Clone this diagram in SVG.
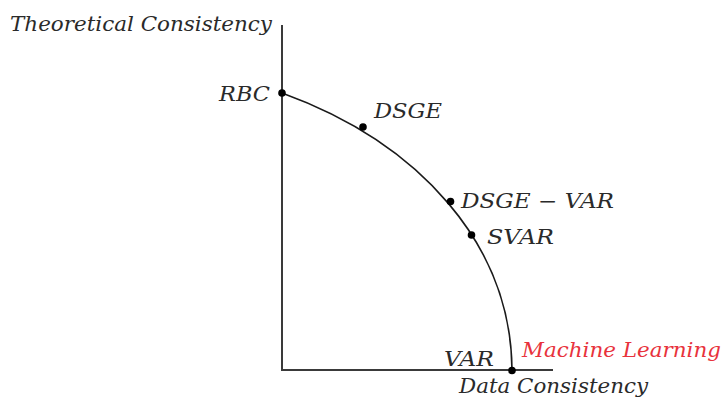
<svg xmlns="http://www.w3.org/2000/svg" width="723" height="399" viewBox="0 0 723 399">
<style>
.t{font-family:"DejaVu Serif","Liberation Serif",serif;font-style:italic;font-size:20px;fill:#2a2a2a}
.red{fill:#e8323c}
.ax{stroke:#3a3a3a;stroke-width:2;fill:none}
.cv{stroke:#1a1a1a;stroke-width:1.6;fill:none}
.dot{fill:#000}
</style>
<rect width="723" height="399" fill="#fff"/>
<g id="axes">
<line class="ax" x1="282" y1="25" x2="282" y2="371"/>
<line class="ax" x1="281" y1="370" x2="553" y2="370"/>
</g>
<g id="connectors">
<path class="cv" d="M282,93 C420,143 511,245 512,370"/>
</g>
<g id="y-label"><text class="t" x="10" y="31" textLength="262" lengthAdjust="spacingAndGlyphs">Theoretical Consistency</text></g>
<g id="x-label"><text class="t" x="459" y="393" textLength="189" lengthAdjust="spacingAndGlyphs">Data Consistency</text></g>
<g id="rbc"><circle class="dot" cx="282" cy="93" r="3.8"/><text class="t" x="219" y="101" textLength="51" lengthAdjust="spacingAndGlyphs">RBC</text></g>
<g id="dsge"><circle class="dot" cx="363" cy="127" r="3.8"/><text class="t" x="374" y="118" textLength="68" lengthAdjust="spacingAndGlyphs">DSGE</text></g>
<g id="dsge-var"><circle class="dot" cx="450.5" cy="201.5" r="3.8"/><text class="t" x="461" y="208" textLength="153" lengthAdjust="spacingAndGlyphs">DSGE − VAR</text></g>
<g id="svar"><circle class="dot" cx="471.5" cy="235" r="3.8"/><text class="t" x="487" y="244" textLength="67" lengthAdjust="spacingAndGlyphs">SVAR</text></g>
<g id="var"><circle class="dot" cx="512" cy="370.5" r="3.8"/><text class="t" x="444" y="366" textLength="50" lengthAdjust="spacingAndGlyphs">VAR</text></g>
<g id="ml"><text class="t red" x="522" y="357" textLength="199" lengthAdjust="spacingAndGlyphs">Machine Learning</text></g>
</svg>
